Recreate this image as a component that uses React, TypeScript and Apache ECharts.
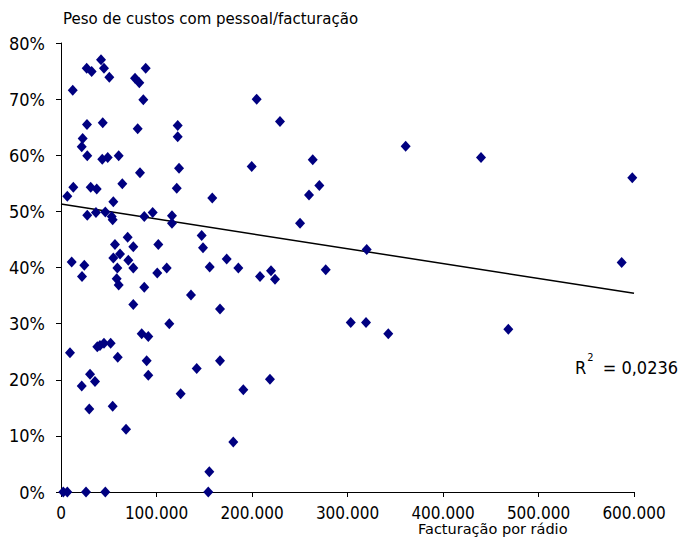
import React, { useEffect, useRef } from "react";
import * as echarts from "echarts";

// Facturação por rádio (x) and Peso de custos com pessoal/facturação (%) (y)
const xValues: number[] = [
  12300, 26900, 32100, 41900, 45000, 50600, 77500, 82000, 88700, 86200,
  27200, 43700, 80300, 122200, 122200, 22700, 21700, 27500, 43200, 48900,
  60400, 123600, 82700, 12900, 31100, 37400, 64200, 121200,
  6600, 27500, 36600, 46400, 54800, 53100, 54100, 87200, 96000, 116200,
  116200, 69800, 56500, 75700, 101900, 11200, 24400, 22000, 54800, 61800,
  70500, 59000, 75700, 100800, 110700, 58300, 60400, 87200, 75700, 113400,
  84500, 91400,
  9400, 38000, 40800, 45000, 52000, 59400, 89700, 91400, 21700, 30400,
  35600, 29600, 54100, 68100, 2400, 6600, 26200, 46400, 125300,
  204900, 229300, 199700, 263600, 270500, 259700, 158400, 250300, 147300, 148700,
  155700, 173500, 185700, 208400, 219900, 224100, 277200, 136100, 166500,
  166500, 142100, 190900, 218800, 180400, 155300, 154200,
  303400, 319400, 320100, 342700, 360900, 439800, 468400, 587100, 598200,
];
const yValues: number[] = [
  71.6, 75.5, 74.9, 77.0, 75.5, 73.9, 73.7, 72.9, 75.5, 69.9,
  65.5, 65.8, 64.7, 65.3, 63.3, 63.0, 61.5, 59.9, 59.3, 59.6,
  59.9, 57.7, 56.9, 54.3, 54.3, 54.0, 54.9, 54.1,
  52.7, 49.3, 49.8, 49.9, 51.7, 49.1, 48.5, 49.1, 49.8, 49.2,
  47.9, 45.4, 44.1, 43.7, 44.1, 41.0, 40.4, 38.4, 41.7, 42.4,
  41.3, 39.9, 39.9, 39.0, 39.9, 38.0, 36.9, 36.5, 33.4, 30.0,
  28.2, 27.7,
  24.8, 25.9, 26.1, 26.5, 26.5, 24.0, 23.4, 20.8, 18.9, 21.0,
  19.7, 14.8, 15.3, 11.2, 0, 0, 0, 0, 17.5,
  70.0, 66.0, 58.0, 59.2, 54.6, 52.9, 52.4, 47.9, 45.7, 43.5,
  40.1, 41.5, 39.9, 38.4, 39.4, 37.9, 39.6, 35.1, 32.6,
  23.4, 22.0, 18.2, 20.1, 8.9, 3.6, 0,
  30.2, 30.2, 43.2, 28.2, 61.6, 59.6, 29.0, 40.9, 56.0,
];

// Linear trendline endpoints as drawn (x, y%)
const trendX: number[] = [0, 600000];
const trendY: number[] = [51.3, 35.4];

const yTitle = "Peso de custos com pessoal/facturação";
const xTitle = "Facturação por rádio";
const rSquared = "0,0236";

const fmtThousands = (v: number) =>
  v === 0 ? "0" : String(Math.round(v)).replace(/\B(?=(\d{3})+(?!\d))/g, ".");

export default function App() {
  const ref = useRef<HTMLDivElement>(null);
  useEffect(() => {
    if (!ref.current) return;
    const chart = echarts.init(ref.current, null, { renderer: "svg" });
    const font = "Tahoma, 'DejaVu Sans Condensed', 'DejaVu Sans', sans-serif";
    const titleFont = "'DejaVu Sans', sans-serif";
    chart.setOption({
      animation: false,
      backgroundColor: "#ffffff",
      textStyle: { fontFamily: font },
      grid: { left: 61, right: 46, top: 43, bottom: 46, containLabel: false },
      xAxis: {
        type: "value",
        min: 0,
        max: 600000,
        interval: 100000,
        splitLine: { show: false },
        axisLine: { show: true, onZero: false, lineStyle: { color: "#000", width: 1 } },
        axisTick: { show: true, length: 5, inside: false, lineStyle: { color: "#000" } },
        axisLabel: {
          color: "#000",
          fontSize: 17,
          lineHeight: 15,
          fontFamily: font,
          margin: 13,
          formatter: (v: number) => fmtThousands(v),
        },
      },
      yAxis: {
        type: "value",
        min: 0,
        max: 80,
        interval: 10,
        splitLine: { show: false },
        axisLine: { show: true, onZero: false, lineStyle: { color: "#000", width: 1 } },
        axisTick: { show: true, length: 5, inside: false, lineStyle: { color: "#000" } },
        axisLabel: {
          color: "#000",
          fontSize: 18,
          fontFamily: font,
          margin: 16,
          formatter: (v: number) => v + "%",
        },
      },
      series: [
        {
          type: "line",
          data: trendX.map((x, i) => [x, trendY[i]]),
          symbol: "none",
          lineStyle: { color: "#000", width: 1.5 },
          z: 1,
          silent: true,
        },
        {
          type: "scatter",
          data: xValues.map((x, i) => [x, yValues[i]]),
          symbol: "diamond",
          symbolSize: [10, 11],
          itemStyle: { color: "#000080", opacity: 1 },
          z: 2,
        },
      ],
      graphic: [
        {
          type: "text",
          left: 63,
          top: 11,
          style: { text: yTitle, fontSize: 15, fontFamily: titleFont, fill: "#000" },
        },
        {
          type: "text",
          left: 418,
          top: 521,
          style: { text: xTitle, fontSize: 14.5, lineHeight: 15, fontFamily: titleFont, fill: "#000" },
        },
        {
          type: "text",
          left: 575,
          top: 352,
          style: {
            text: "{r|R}{s|2}{r| = " + rSquared + "}",
            fontFamily: font,
            fill: "#000",
            rich: {
              r: { fontSize: 18, fontFamily: font, fill: "#000", verticalAlign: "bottom", lineHeight: 24 },
              s: { fontSize: 11, fontFamily: font, fill: "#000", verticalAlign: "top", lineHeight: 24, padding: [0, 4, 10, 1] },
            },
          },
        },
      ],
    });
    return () => chart.dispose();
  }, []);
  return (
    <div
      ref={ref}
      style={{ position: "fixed", left: 0, top: 0, width: 680, height: 538 }}
    />
  );
}
